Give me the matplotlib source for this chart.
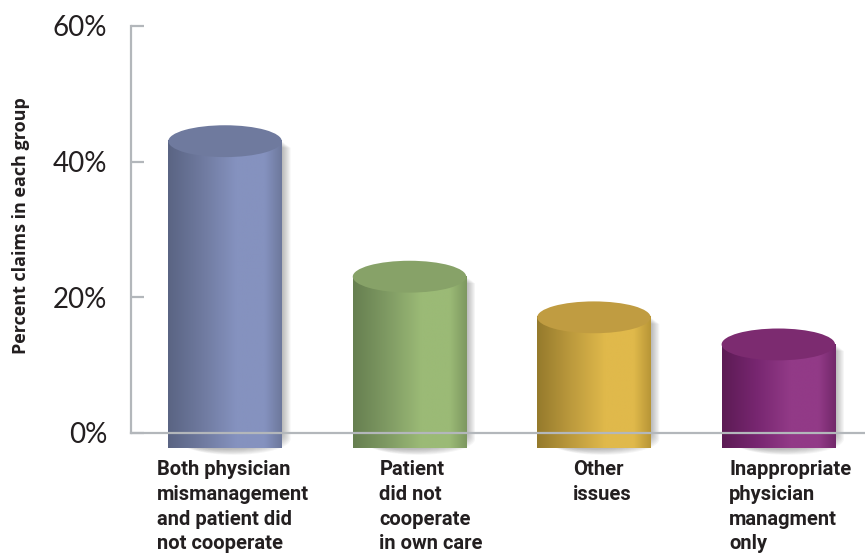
import numpy as np
import matplotlib
matplotlib.use("Agg")
import matplotlib.pyplot as plt
from matplotlib.patches import Polygon, Ellipse
from matplotlib.colors import LinearSegmentedColormap
from matplotlib.transforms import offset_copy

# ---- data ----
categories = [
    "Both physician\nmismanagement\nand patient did\nnot cooperate",
    "Patient\ndid not\ncooperate\nin own care",
    "Other\nissues",
    "Inappropriate\nphysician\nmanagment\nonly",
]
values = [43, 23, 17, 13]
yticks = [0, 20, 40, 60]
ytick_labels = ["0%", "20%", "40%", "60%"]
ylabel = "Percent claims in each group"

# ---- style ----
side_colors = [
    ["#5a6483", "#6f7a9f", "#8592bf", "#8592bf", "#6d789c"],
    ["#667f50", "#7f9a63", "#9bba76", "#9bba76", "#7d9860"],
    ["#957a2c", "#bc9a3d", "#e0b94b", "#e0b94b", "#b89637"],
    ["#5c1b54", "#772670", "#923a87", "#923a87", "#72286a"],
]
top_colors = ["#6f7a9e", "#87a268", "#c09c41", "#7c2b70"]

fig = plt.figure(figsize=(8.65, 5.55), dpi=100)
W, H = 865, 555
x_left, y_zero, y_top = 131, 432.5, 26
ax = fig.add_axes([x_left / W, (H - y_zero) / H, (W - x_left) / W, (y_zero - y_top) / H])
ax.set_ylim(0, 60)
ax.set_xlim(-0.51, 3.47)

grey = "#b3b7bb"
for s in ["top", "right"]:
    ax.spines[s].set_visible(False)
ax.spines["left"].set_color(grey)
ax.spines["bottom"].set_color(grey)
ax.spines["left"].set_linewidth(1.6)
ax.spines["bottom"].set_linewidth(1.6)
ax.set_xticks([])
ax.set_yticks(yticks)
ax.set_yticklabels(ytick_labels, fontsize=20, color="#231f20",
                   family=["Lato", "DejaVu Sans"], fontweight="normal")
ax.tick_params(axis="y", direction="in", length=9, width=1.6, color=grey, pad=17)

fig.text(21 / W, 1 - 226 / H, ylabel, rotation=90, ha="center", va="center",
         fontsize=13, fontweight="bold", color="#231f20",
         family=["Open Sans", "DejaVu Sans"])

bw = 0.615     # bar width in data units
eh = 2.35      # ellipse half height in data units
n = 60
for i, (v, sc, tc) in enumerate(zip(values, side_colors, top_colors)):
    x0, x1 = i - bw / 2, i + bw / 2
    t = np.linspace(np.pi, 2 * np.pi, n)
    bottom_arc = np.column_stack([i + bw / 2 * np.cos(t), eh * np.sin(t)])
    pts = np.vstack([[[x0, v]], bottom_arc, [[x1, v]]])
    # shadow
    for k in range(1, 9):
        tr = offset_copy(ax.transData, fig=fig, x=k * 1.1, y=-k * 0.8, units="dots")
        ax.add_patch(Polygon(pts, closed=True, facecolor="#404040", edgecolor="none",
                             alpha=0.05, transform=tr, clip_on=False, zorder=1))
    # side with gradient
    body = Polygon(pts, closed=True, facecolor="none", edgecolor="none",
                   clip_on=False, zorder=2)
    ax.add_patch(body)
    cmap = LinearSegmentedColormap.from_list(
        f"c{i}", list(zip([0, 0.3, 0.6, 0.85, 1.0], sc)))
    grad = np.linspace(0, 1, 256)[None, :]
    im = ax.imshow(grad, cmap=cmap, extent=[x0, x1, -eh, v], aspect="auto",
                   origin="lower", zorder=2, clip_on=False, interpolation="bilinear")
    im.set_clip_path(body)
    # top ellipse
    ax.add_patch(Ellipse((i, v), bw, 2 * eh, facecolor=tc, edgecolor="none",
                         zorder=3, clip_on=False))

# category labels
label_dx = [-0.37, -0.163, -0.114, -0.266]
for i, (lab, dx) in enumerate(zip(categories, label_dx)):
    ax.text(i + dx, -4.1, lab, ha="left", va="top", fontsize=14.5, fontweight="bold",
            family=["Roboto", "DejaVu Sans"],
            color="#231f20", linespacing=1.38, clip_on=False)

fig.savefig("out.png", dpi=100)
